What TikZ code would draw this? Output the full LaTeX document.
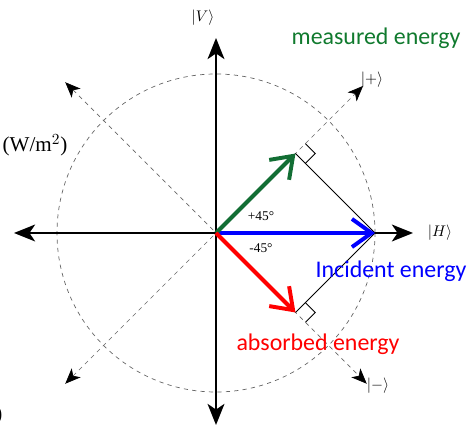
\documentclass[tikz,border=0pt]{standalone}
\usepackage{amssymb,amsmath}
\usepackage{fontspec}
\setmainfont{Liberation Serif}
\newfontfamily\calib{Carlito}
\usepackage{tikz}
\usetikzlibrary{calc,arrows.meta}
\definecolor{mgreen}{RGB}{18,110,52}
\definecolor{tgreen}{RGB}{16,122,46}

\begin{document}
\begin{tikzpicture}[>=Stealth, font=\small]
		\tikzset{ax/.style={line width=1.4pt, -{Stealth[length=15pt, width=12pt, inset=4pt]}}}
		\tikzset{dg/.style={dashed, line width=0.5pt, gray!80!black, {Stealth[length=11pt, width=9pt, inset=3pt, black]}-{Stealth[length=11pt, width=9pt, inset=3pt, black]}}}
		\tikzset{pj/.style={line width=2.8pt, -{Straight Barb[length=14pt, width=20pt]}}}
		\tikzset{ket/.style={font=\fontsize{11}{13}\selectfont}}
		\tikzset{lbl/.style={font=\calib\fontsize{17}{20}\selectfont}}
		\useasboundingbox (-5.4,-4.925) rectangle (6.3,5.825);
		% centre and ends
		\coordinate (O) at (0,0);
		\coordinate (Hl) at (-5.05,0); \coordinate (Hr) at (4.925,0);
		\coordinate (Vt) at (0,4.875); \coordinate (Vb) at (0,-4.8);
		\coordinate (Pp) at (45:5.2); \coordinate (Pm) at (315:5.33);
		\coordinate (Qp) at (225:5.33); \coordinate (Qm) at (135:5.33);
		\coordinate (I) at (3.975,0);
		\coordinate (G) at (45:2.81);
		\coordinate (R) at (-45:2.81);
		% circle
		\draw[dashed, line width=0.5pt, gray!80!black] (O) circle (3.975);
		% diagonal axes
		\draw[dg] (Qp) -- (Pp);
		\draw[dg] (Qm) -- (Pm);
		% main axes
		\draw[ax] (O) -- (Hr);
		\draw[ax] (O) -- (Hl);
		\draw[ax] (O) -- (Vt);
		\draw[ax] (O) -- (Vb);
		% projections
		\draw[line width=0.6pt] (G) -- (I);
		\draw[line width=0.6pt] (R) -- (I);
		\draw[line width=0.6pt] ($(G)+(45:0.35)$) -- ($(G)+(45:0.35)+(-45:0.35)$) -- ($(G)+(-45:0.35)$);
		\draw[line width=0.6pt] ($(R)+(45:0.35)$) -- ($(R)+(45:0.35)+(-45:0.35)$) -- ($(R)+(-45:0.35)$);
		\draw[pj, blue] (O) -- (I);
		\draw[pj, mgreen] (O) -- (G);
		\draw[pj, red] (O) -- (R);
		% labels
		\node[ket] (kV) at (-0.325,5.375) {$|V\rangle$};
		\node[ket] (kH) at (5.6,0) {$|H\rangle$};
		\node[ket] (kP) at (3.9,3.825) {$|{+}\rangle$};
		\node[ket] (kM) at (4.05,-3.825) {$|{-}\rangle$};
		\node[font=\fontsize{9.5}{11}\selectfont] (ap) at (1.125,0.425) {+45°};
		\node[font=\fontsize{9.5}{11}\selectfont] (am) at (1.125,-0.375) {-45°};
		\node[lbl, text=tgreen] (meas) at (4.0,4.875) {measured energy};
		\node[lbl, text=blue] (inc) at (4.375,-0.95) {Incident energy};
		\node[lbl, text=red] (abs) at (2.55,-2.775) {absorbed energy};
		\node[font=\fontsize{15}{18}\selectfont] (unit) at (-4.525,2.2) {(W/m$^2$)};
		\node[font=\fontsize{15}{18}\selectfont, anchor=east, inner sep=0pt] (cut) at (-5.33,-4.55) {)};
	\end{tikzpicture}
\end{document}
